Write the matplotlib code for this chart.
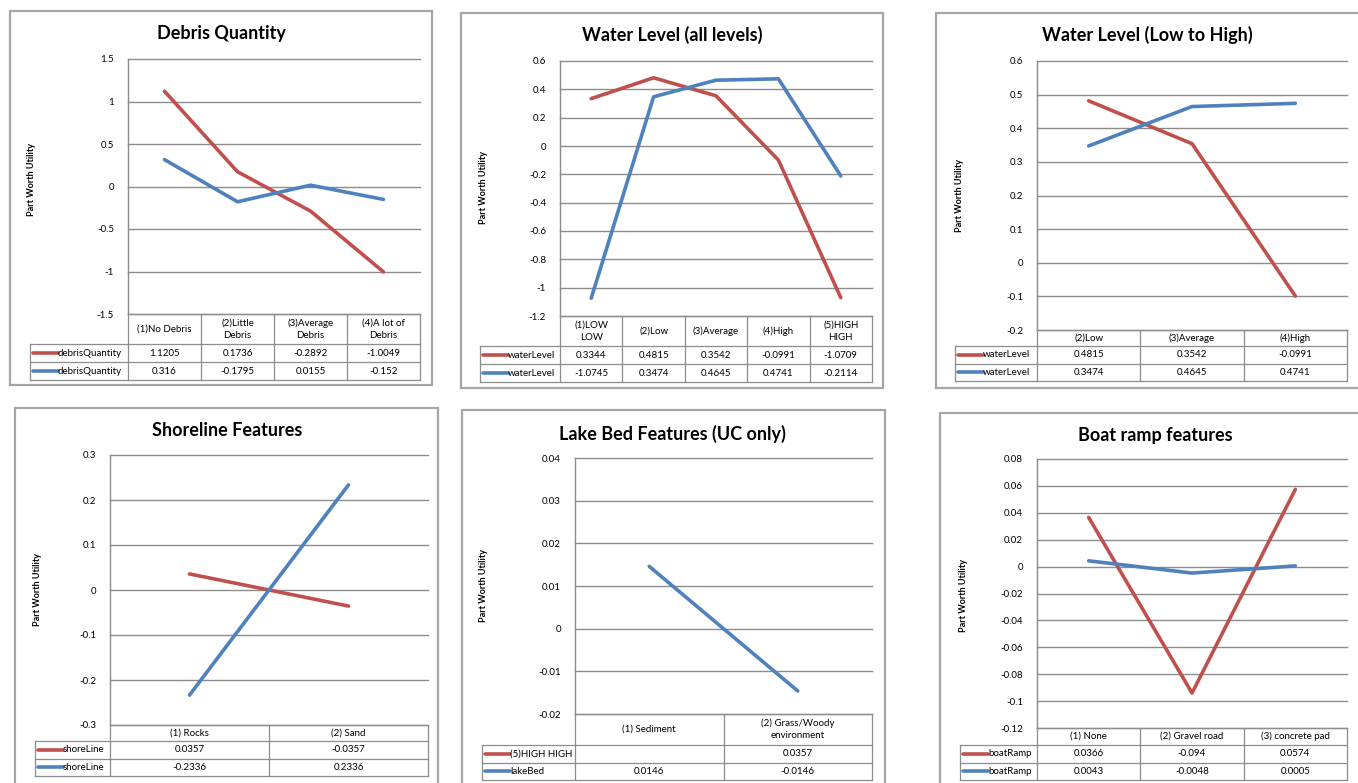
import numpy as np
import matplotlib
matplotlib.use("Agg")
import matplotlib.pyplot as plt
from matplotlib.ticker import FuncFormatter

plt.rcParams['font.family'] = ['Lato', 'DejaVu Sans']

W, H = 1358, 783
RED = '#C0504D'
BLUE = '#4F81BD'
FRAME = '#A6A6A6'
GRID = '#8C8C8C'

# ---- data -------------------------------------------------------------
debris_cats = ["(1)No Debris", "(2)Little\nDebris", "(3)Average\nDebris", "(4)A lot of\nDebris"]
debris_red = [1.1205, 0.1736, -0.2892, -1.0049]
debris_blue = [0.316, -0.1795, 0.0155, -0.152]

water_all_cats = ["(1)LOW\nLOW", "(2)Low", "(3)Average", "(4)High", "(5)HIGH\nHIGH"]
water_all_red = [0.3344, 0.4815, 0.3542, -0.0991, -1.0709]
water_all_blue = [-1.0745, 0.3474, 0.4645, 0.4741, -0.2114]

water_lh_cats = ["(2)Low", "(3)Average", "(4)High"]
water_lh_red = [0.4815, 0.3542, -0.0991]
water_lh_blue = [0.3474, 0.4645, 0.4741]

shore_cats = ["(1) Rocks", "(2) Sand"]
shore_red = [0.0357, -0.0357]
shore_blue = [-0.2336, 0.2336]

lakebed_cats = ["(1) Sediment", "(2) Grass/Woody\nenvironment"]
lakebed_red = [None, 0.0357]
lakebed_blue = [0.0146, -0.0146]

boat_cats = ["(1) None", "(2) Gravel road", "(3) concrete pad"]
boat_red = [0.0366, -0.094, 0.0574]
boat_blue = [0.0043, -0.0048, 0.0005]

# ---- figure and overlay in pixel coordinates ---------------------------
fig = plt.figure(figsize=(W / 100, H / 100), dpi=100)
ov = fig.add_axes([0, 0, 1, 1])
ov.set_xlim(0, W)
ov.set_ylim(H, 0)
ov.axis('off')


def fmt_val(v):
    if v is None:
        return ""
    return f"{v:g}"


def chart(title, cats, red, blue, names, ylim, step,
          frame, plot, header_bottom, row_h, legend_left, title_xy, ylab_xy):
    fx0, fy0, fx1, fy1 = frame
    px0, py0, px1, py1 = plot
    # chart frame
    ov.plot([fx0, fx1, fx1, fx0, fx0], [fy1, fy1, fy0, fy0, fy1],
            color=FRAME, lw=1.6, clip_on=False, solid_joinstyle='miter')
    ov.text(title_xy[0], title_xy[1], title, ha='center', va='center',
            fontsize=13, fontweight='bold', color='black')
    ov.text(ylab_xy[0], ylab_xy[1], "Part Worth Utility", ha='center', va='center',
            rotation=90, fontsize=6.5, fontweight='bold', color='black')

    # plot area
    ax = fig.add_axes([px0 / W, 1 - py1 / H, (px1 - px0) / W, (py1 - py0) / H])
    ax.patch.set_alpha(0)
    n = len(cats)
    ax.set_xlim(0, n)
    ax.set_ylim(*ylim)
    nt = int(round((ylim[1] - ylim[0]) / step))
    ticks = [round(ylim[0] + k * step, 6) for k in range(nt + 1)]
    ax.set_yticks(ticks)
    ax.yaxis.set_major_formatter(FuncFormatter(lambda v, p: f"{round(v, 6):g}"))
    ax.tick_params(axis='y', length=0, pad=10, labelsize=7, labelcolor='black')
    ax.set_xticks([])
    for s in ['top', 'right', 'bottom']:
        ax.spines[s].set_visible(False)
    ax.spines['left'].set_color(GRID)
    ax.spines['left'].set_linewidth(1.0)
    for t in ticks:
        ax.axhline(t, color=GRID, lw=1.0, clip_on=False, zorder=1)
    x = np.arange(n) + 0.5
    for vals, col in ((red, RED), (blue, BLUE)):
        y = np.array([np.nan if v is None else v for v in vals], dtype=float)
        ax.plot(x, y, color=col, lw=2.6, solid_capstyle='round',
                solid_joinstyle='round', zorder=3, clip_on=False)

    # data table below the plot
    r1 = header_bottom
    r2 = r1 + row_h
    r3 = r2 + row_h
    cw = (px1 - px0) / n
    lw = 0.9
    # header row
    ov.plot([px0, px1], [py1, py1], color=GRID, lw=lw)
    ov.plot([legend_left, px1], [r1, r1], color=GRID, lw=lw)
    ov.plot([legend_left, px1], [r2, r2], color=GRID, lw=lw)
    ov.plot([legend_left, px1], [r3, r3], color=GRID, lw=lw)
    ov.plot([legend_left, legend_left], [r1, r3], color=GRID, lw=lw)
    for k in range(n + 1):
        xx = px0 + k * cw
        ov.plot([xx, xx], [py1, r3], color=GRID, lw=lw)
    for k, c in enumerate(cats):
        ov.text(px0 + (k + 0.5) * cw, (py1 + r1) / 2, c, ha='center', va='center',
                fontsize=7, color='black', linespacing=1.45)
    for (vals, col, name, ya, yb) in ((red, RED, names[0], r1, r2),
                                      (blue, BLUE, names[1], r2, r3)):
        yc = (ya + yb) / 2
        ov.plot([legend_left + 3, legend_left + 28], [yc, yc], color=col, lw=2.6,
                solid_capstyle='round')
        ov.text(legend_left + 28, yc, name, ha='left', va='center', fontsize=7,
                color='black')
        for k, v in enumerate(vals):
            ov.text(px0 + (k + 0.5) * cw, yc, fmt_val(v), ha='center', va='center',
                    fontsize=7, color='black')
    return ax


chart("Debris Quantity", debris_cats, debris_red, debris_blue,
      ("debrisQuantity", "debrisQuantity"), (-1.5, 1.5), 0.5,
      frame=(10, 11, 432, 385), plot=(128, 59, 420, 314),
      header_bottom=344, row_h=18, legend_left=30,
      title_xy=(221, 33), ylab_xy=(32, 180))

chart("Water Level (all levels)", water_all_cats, water_all_red, water_all_blue,
      ("waterLevel", "waterLevel"), (-1.2, 0.6), 0.2,
      frame=(461, 13, 883, 388), plot=(560, 61, 872, 316),
      header_bottom=346, row_h=18, legend_left=480,
      title_xy=(672, 35), ylab_xy=(483, 188))

chart("Water Level (Low to High)", water_lh_cats, water_lh_red, water_lh_blue,
      ("waterLevel", "waterLevel"), (-0.2, 0.6), 0.1,
      frame=(936, 13, 1368, 388), plot=(1037, 61, 1347, 330),
      header_bottom=346, row_h=17.5, legend_left=955,
      title_xy=(1147, 35), ylab_xy=(960, 195))

chart("Shoreline Features", shore_cats, shore_red, shore_blue,
      ("shoreLine", "shoreLine"), (-0.3, 0.3), 0.1,
      frame=(15, 408, 438, 795), plot=(110, 455, 428, 725),
      header_bottom=741, row_h=17.5, legend_left=35,
      title_xy=(227, 430), ylab_xy=(38, 590))

chart("Lake Bed Features (UC only)", lakebed_cats, lakebed_red, lakebed_blue,
      ("(5)HIGH HIGH", "lakeBed"), (-0.02, 0.04), 0.01,
      frame=(462, 410, 885, 795), plot=(575, 458, 872, 714),
      header_bottom=745, row_h=17.5, legend_left=482,
      title_xy=(672, 434), ylab_xy=(484, 585))

chart("Boat ramp features", boat_cats, boat_red, boat_blue,
      ("boatRamp", "boatRamp"), (-0.12, 0.08), 0.02,
      frame=(940, 413, 1368, 795), plot=(1037, 459, 1347, 728),
      header_bottom=745, row_h=17.5, legend_left=960,
      title_xy=(1155, 435), ylab_xy=(963, 595))

fig.savefig("out.png", dpi=100, facecolor='white')
